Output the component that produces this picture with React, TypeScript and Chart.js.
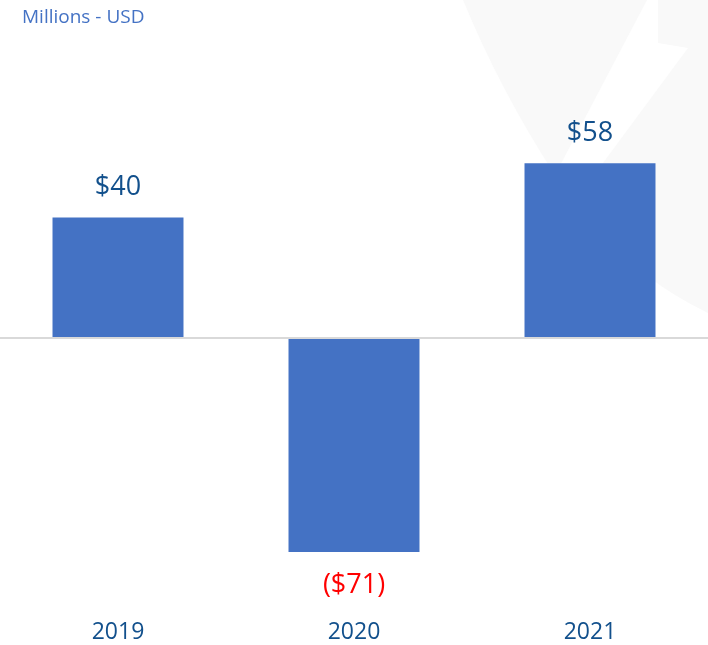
import React, { useEffect, useRef } from "react";
import { Chart, registerables } from "chart.js";

Chart.register(...registerables);

const categories = ["2019", "2020", "2021"];
const values = [40, -71, 58];
const valueLabels = ["$40", "($71)", "$58"];
const titleText = "Millions - USD";

const BAR_COLOR = "#4472C4";
const LABEL_COLOR = "#12508C";
const NEG_COLOR = "#FF0000";
const FONT = "'Open Sans', 'Noto Sans', sans-serif";

const backgroundPlugin = {
  id: "bgShape",
  beforeDraw(chart: any) {
    const { ctx, width } = chart;
    ctx.save();
    ctx.fillStyle = "#ffffff";
    ctx.fillRect(0, 0, width, chart.height);
    ctx.fillStyle = "#f9f9f9";
    // faint decorative watermark shapes (background only)
    ctx.beginPath();
    ctx.moveTo(463, 0);
    ctx.lineTo(647, 0);
    ctx.lineTo(555, 175);
    ctx.quadraticCurveTo(500, 90, 463, 0);
    ctx.closePath();
    ctx.fill();
    ctx.beginPath();
    ctx.moveTo(658, 0);
    ctx.lineTo(708, 0);
    ctx.lineTo(708, 313);
    ctx.quadraticCurveTo(640, 280, 600, 230);
    ctx.lineTo(603, 163);
    ctx.lineTo(688, 48);
    ctx.lineTo(658, 43);
    ctx.closePath();
    ctx.fill();
    ctx.restore();
  },
};

const labelPlugin = {
  id: "valueLabels",
  afterDatasetsDraw(chart: any) {
    const { ctx } = chart;
    const meta = chart.getDatasetMeta(0);
    ctx.save();
    ctx.font = `27px ${FONT}`;
    ctx.textAlign = "center";
    ctx.textBaseline = "middle";
    meta.data.forEach((bar: any, i: number) => {
      const v = values[i];
      ctx.fillStyle = v < 0 ? NEG_COLOR : LABEL_COLOR;
      const y = v < 0 ? bar.y + 33 : bar.y - 30;
      ctx.fillText(valueLabels[i], bar.x, y);
    });
    // title
    ctx.font = `19px ${FONT}`;
    ctx.textAlign = "left";
    ctx.fillStyle = BAR_COLOR;
    ctx.fillText(titleText, 22, 18);
    ctx.restore();
  },
};

export default function App() {
  const ref = useRef<HTMLCanvasElement | null>(null);

  useEffect(() => {
    document.body.style.margin = "0";
    const canvas = ref.current;
    if (!canvas) return;
    const chart = new Chart(canvas, {
      type: "bar",
      data: {
        labels: categories,
        datasets: [
          {
            data: values,
            backgroundColor: BAR_COLOR,
            borderWidth: 0,
            barPercentage: 1,
            categoryPercentage: 0.555,
          },
        ],
      },
      options: {
        animation: false,
        responsive: false,
        maintainAspectRatio: false,
        layout: { padding: { top: 97, left: 0, right: 0, bottom: 0 } },
        plugins: {
          legend: { display: false },
          title: { display: false },
          tooltip: { enabled: false },
        },
        scales: {
          x: {
            grid: { display: false, drawTicks: false },
            border: { display: false },
            ticks: {
              color: LABEL_COLOR,
              font: { family: FONT, size: 23 },
              padding: 40,
            },
            afterFit: (scale: any) => {
              scale.height = 66;
            },
          },
          y: {
            min: -80,
            max: 80,
            ticks: { display: false, stepSize: 10 },
            border: { display: false },
            grid: {
              drawTicks: false,
              lineWidth: 2,
              color: (c: any) =>
                c.tick && c.tick.value === 0 ? "#d9d9d9" : "rgba(0,0,0,0)",
            },
            afterFit: (scale: any) => {
              scale.width = 0;
            },
          },
        },
      },
      plugins: [backgroundPlugin, labelPlugin],
    });
    return () => chart.destroy();
  }, []);

  return (
    <div style={{ width: 708, height: 645 }}>
      <canvas ref={ref} width={708} height={645} style={{ display: "block" }} />
    </div>
  );
}
